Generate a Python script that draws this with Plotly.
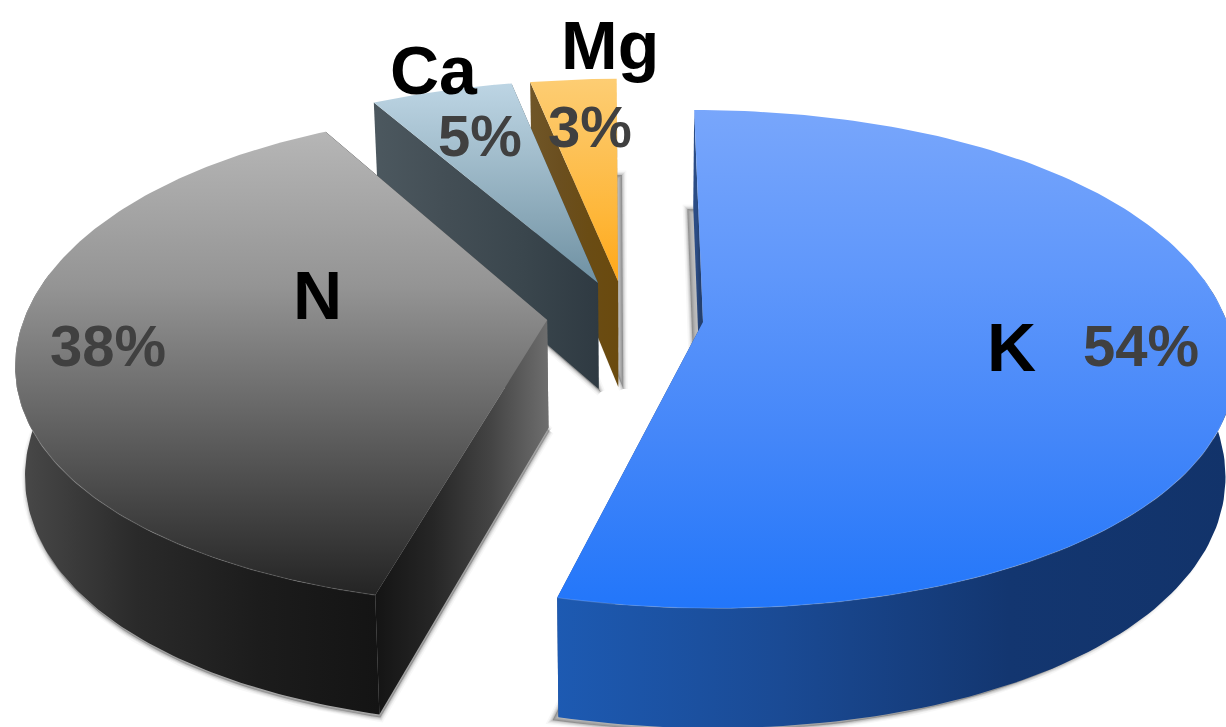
import numpy as np
import plotly.graph_objects as go

# Nutrient shares, drawn clockwise from twelve o'clock
nutrients = ["K", "N", "Ca", "Mg"]
shares = [54, 38, 5, 3]

# Styling per slice: top-face gradient (front to back), rim gradient, cut-face gradient
top_stops = {
    "K": ["#2276fa", "#4386f9", "#5f97fb", "#78a6fb"],
    "N": ["#242424", "#5c5c5c", "#949494", "#b6b6b6"],
    "Ca": ["#6f91a3", "#8aa8b8", "#a4bfce", "#bdd5e4"],
    "Mg": ["#ffa81a", "#feb73a", "#fdc258", "#fdcd73"],
}
rim_stops = {
    "K": ["#1d5ab2", "#1a4a94", "#133670", "#12336a"],
    "N": ["#4a4a4a", "#2a2a2a", "#1c1c1c", "#141414"],
    "Ca": ["#4a555c", "#4a555c", "#4a555c", "#4a555c"],
    "Mg": ["#6b4f22", "#6b4f22", "#6b4f22", "#6b4f22"],
}
cut_stops = {
    "K": ["#2b4c85", "#2b4c85", "#24406f", "#24406f"],
    "N": ["#141414", "#262626", "#444444", "#6e6e6e"],
    "Ca": ["#4c585f", "#434e55", "#3a464d", "#2f3a42"],
    "Mg": ["#705628", "#6b4f1f", "#6a4c14", "#6a4a0e"],
}

# Explosion of each slice on the pie plane, back-edge lean, and soft shadow offset in pixels
explode = {"K": (68.0, 0.0), "N": (-88.0, -0.008), "Ca": (-37.9, -0.164), "Mg": (-17.4, -0.1726)}
lean = {"K": 0.0, "N": 3.0, "Ca": 4.5, "Mg": 3.5}
shadow_shift = {"K": (-6, 3), "N": (1, 3), "Ca": (2, 3), "Mg": (5, 2)}
draw_order = ["K", "Mg", "Ca", "N"]

# Perspective camera for the tilted disc
X0, Y0, RX, RY, TILT, SQUARE, SCALE_BASE, DEPTH, DEPTH_SLOPE = 635.0, 322.0, 524.0, 243.6, 0.149, 0.035, 0.984, 108.0, 0.11


def project_top(theta, radius, name):
    du, dv = explode[name]
    sx, cy = np.sin(theta) * radius, -np.cos(theta) * radius
    v = dv + cy
    s = 1.0 / (1.0 - TILT * v)
    x = X0 + (du + RX * sx * (1 + SQUARE * cy**2)) * s + lean[name] * np.minimum(cy, 0)
    y = Y0 + RY * v * s
    return x, y, v


def project_base(theta, radius, name):
    x, y, v = project_top(theta, radius, name)
    return X0 + (x - X0) * SCALE_BASE, y + DEPTH * (1 + DEPTH_SLOPE * v)


def ramp(colors):
    return [[i / (len(colors) - 1), c] for i, c in enumerate(colors)]


def face(fig, xs, ys, colors, kind):
    fig.add_trace(go.Scatter(
        x=xs, y=ys, mode="lines", fill="toself", line=dict(width=0),
        fillgradient=dict(type=kind, colorscale=ramp(colors)),
        hoverinfo="skip", showlegend=False,
    ))


fig = go.Figure()

edges = np.concatenate([[0], np.cumsum(shares)]) / sum(shares) * 2 * np.pi
spans = {n: (edges[i], edges[i + 1]) for i, n in enumerate(nutrients)}

for name in draw_order:
    a0, a1 = spans[name]
    theta = np.linspace(a0, a1, 160)
    apex = np.array([a0])

    ax, ay, _ = project_top(apex, 0.0, name)
    bx, by = project_base(apex, 0.0, name)
    tx, ty, _ = project_top(theta, 1.0, name)
    lx, ly = project_base(theta, 1.0, name)

    # Soft shadow: the base outline spread by stacked translucent strokes
    dx, dy = shadow_shift[name]
    sx = np.concatenate([bx, lx, bx]) + dx
    sy = np.concatenate([by, ly, by]) + dy
    for w, alpha in [(9, 0.03), (6, 0.05), (4, 0.07), (2, 0.09)]:
        fig.add_trace(go.Scatter(
            x=sx, y=sy, mode="lines", fill="toself",
            fillcolor="rgba(0,0,0,0.07)",
            line=dict(width=w, color=f"rgba(0,0,0,{alpha})"),
            hoverinfo="skip", showlegend=False,
        ))

    # Cut faces at the two straight edges; the leading one is the visible one
    for i in (-1, 0):
        face(fig,
             [ax[0], tx[i], lx[i], bx[0], ax[0]],
             [ay[0], ty[i], ly[i], by[0], ay[0]],
             cut_stops[name], "horizontal")

    # Curved rim, only where it turns toward the viewer
    visible = -np.cos(theta) > -0.2
    if visible.sum() > 1:
        face(fig,
             np.concatenate([tx[visible], lx[visible][::-1]]),
             np.concatenate([ty[visible], ly[visible][::-1]]),
             rim_stops[name], "horizontal")

    # Top face
    face(fig,
         np.concatenate([ax, tx, ax]),
         np.concatenate([ay, ty, ay]),
         top_stops[name], "vertical")

    # Thin bevel highlight along the outer edge
    if visible.sum() > 1:
        fig.add_trace(go.Scatter(
            x=tx[visible], y=ty[visible],
            mode="lines", line=dict(width=1.2, color="rgba(255,255,255,0.14)"),
            hoverinfo="skip", showlegend=False,
        ))

percent = {n: f"{v}%" for n, v in zip(nutrients, shares)}
name_spots = {"K": (1011, 347), "N": (317, 295), "Ca": (434, 70), "Mg": (610, 45)}
percent_spots = {"K": (1141, 345), "N": (108, 345), "Ca": (480, 135), "Mg": (590, 126)}

for n in nutrients:
    fig.add_annotation(x=name_spots[n][0], y=name_spots[n][1], text=f"<b>{n}</b>", showarrow=False,
                       xref="x", yref="y", xanchor="center", yanchor="middle",
                       font=dict(family="Liberation Sans", size=68, color="#000000"))
    fig.add_annotation(x=percent_spots[n][0], y=percent_spots[n][1], text=f"<b>{percent[n]}</b>", showarrow=False,
                       xref="x", yref="y", xanchor="center", yanchor="middle",
                       font=dict(family="Liberation Sans", size=58, color="#404040"))

fig.update_layout(
    width=1226, height=727, margin=dict(l=0, r=0, t=0, b=0),
    paper_bgcolor="#ffffff", plot_bgcolor="#ffffff", showlegend=False,
    xaxis=dict(range=[0, 1226], visible=False, fixedrange=True),
    yaxis=dict(range=[727, 0], visible=False, fixedrange=True),
)

fig.write_html("out.html", config={"displayModeBar": False})
